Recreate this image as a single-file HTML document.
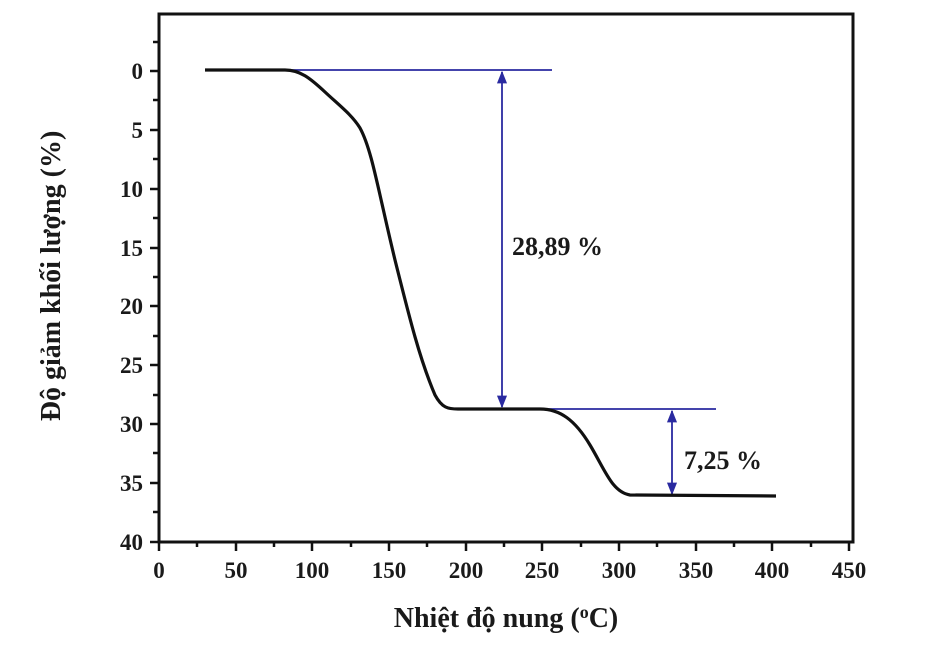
<!DOCTYPE html><html><head><style>body{margin:0;background:#fff}svg text{font-family:"Liberation Serif",serif;font-weight:bold;fill:#1a1a1a}</style></head><body>
<svg width="932" height="642" viewBox="0 0 932 642">
<defs><marker id="a" viewBox="0 0 10 10" refX="9" refY="5" markerWidth="7" markerHeight="7" orient="auto-start-reverse"><path d="M0,1 L10,5 L0,9 z" fill="#2a2aa0"/></marker></defs>
<rect x="159" y="14" width="694" height="528" fill="none" stroke="#111" stroke-width="3"/>
<g stroke="#111" stroke-width="2.5">
<line x1="150" y1="71" x2="159" y2="71"/><line x1="150" y1="130" x2="159" y2="130"/><line x1="150" y1="189" x2="159" y2="189"/><line x1="150" y1="248" x2="159" y2="248"/><line x1="150" y1="306" x2="159" y2="306"/><line x1="150" y1="365" x2="159" y2="365"/><line x1="150" y1="424" x2="159" y2="424"/><line x1="150" y1="483" x2="159" y2="483"/><line x1="150" y1="542" x2="159" y2="542"/>
<line x1="153" y1="42" x2="159" y2="42"/><line x1="153" y1="100" x2="159" y2="100"/><line x1="153" y1="159" x2="159" y2="159"/><line x1="153" y1="218" x2="159" y2="218"/><line x1="153" y1="277" x2="159" y2="277"/><line x1="153" y1="336" x2="159" y2="336"/><line x1="153" y1="395" x2="159" y2="395"/><line x1="153" y1="453" x2="159" y2="453"/><line x1="153" y1="512" x2="159" y2="512"/>
</g>
<g stroke="#111" stroke-width="2.5">
<line x1="159" y1="542" x2="159" y2="551"/><line x1="236" y1="542" x2="236" y2="551"/><line x1="312" y1="542" x2="312" y2="551"/><line x1="389" y1="542" x2="389" y2="551"/><line x1="466" y1="542" x2="466" y2="551"/><line x1="542" y1="542" x2="542" y2="551"/><line x1="619" y1="542" x2="619" y2="551"/><line x1="696" y1="542" x2="696" y2="551"/><line x1="772" y1="542" x2="772" y2="551"/><line x1="849" y1="542" x2="849" y2="551"/>
<line x1="197" y1="542" x2="197" y2="547"/><line x1="274" y1="542" x2="274" y2="547"/><line x1="351" y1="542" x2="351" y2="547"/><line x1="427" y1="542" x2="427" y2="547"/><line x1="504" y1="542" x2="504" y2="547"/><line x1="581" y1="542" x2="581" y2="547"/><line x1="657" y1="542" x2="657" y2="547"/><line x1="734" y1="542" x2="734" y2="547"/><line x1="811" y1="542" x2="811" y2="547"/>
</g>
<g font-size="23" text-anchor="end">
<text x="143" y="79">0</text><text x="143" y="138">5</text><text x="143" y="197">10</text><text x="143" y="256">15</text><text x="143" y="314">20</text><text x="143" y="373">25</text><text x="143" y="432">30</text><text x="143" y="491">35</text><text x="143" y="550">40</text>
</g>
<g font-size="23" text-anchor="middle">
<text x="159" y="578">0</text><text x="236" y="578">50</text><text x="312" y="578">100</text><text x="389" y="578">150</text><text x="466" y="578">200</text><text x="542" y="578">250</text><text x="619" y="578">300</text><text x="696" y="578">350</text><text x="772" y="578">400</text><text x="849" y="578">450</text>
</g>
<text x="506" y="627" font-size="28" text-anchor="middle">Nhiệt độ nung (<tspan font-size="18" dy="-9">o</tspan><tspan dy="9">C)</tspan></text>
<text transform="translate(60,276) rotate(-90)" font-size="28" text-anchor="middle">Độ giảm khối lượng (%)</text>
<g stroke="#2a2aa0" stroke-width="1.8" fill="none">
<line x1="285" y1="70" x2="552" y2="70"/><line x1="502" y1="72" x2="502" y2="407" marker-start="url(#a)" marker-end="url(#a)"/>
<line x1="545" y1="409" x2="716" y2="409"/><line x1="672" y1="411" x2="672" y2="494" marker-start="url(#a)" marker-end="url(#a)"/>
</g>
<path d="M205,70 L285,70 C300,70 310,78 325,92 C340,106 352,115 360,128 C372,150 378,190 395,260 C410,320 420,360 435,395 C442,408 448,409 458,409 L540,409 C560,409 575,420 590,445 C605,470 612,492 630,495 L776,496" fill="none" stroke="#111" stroke-width="3.2"/>
<text x="512" y="255" font-size="26">28,89 %</text>
<text x="684" y="469" font-size="26">7,25 %</text>
</svg></body></html>
